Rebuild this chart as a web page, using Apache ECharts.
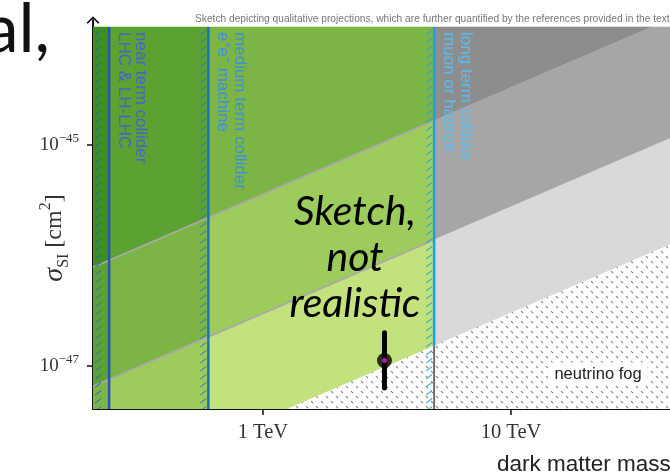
<!DOCTYPE html>
<html>
<head>
<meta charset="utf-8">
<script src="https://cdn.jsdelivr.net/npm/echarts@6/dist/echarts.min.js"></script>
<style>
  html, body { margin: 0; padding: 0; background: #fff; }
  #chart { width: 670px; height: 474px; }
</style>
</head>
<body>
<div id="chart"></div>
<script>
// Horizontal axis: log10(m / TeV).  Vertical axis: log10(sigma_SI / cm^2).
// Direct-detection reach lines, given by their values at the two mass ends.
const limitMassEnds    = [-0.70, 1.65];
const directCurrent    = [-46.12, -43.85];
const directMediumTerm = [-47.20, -44.93];
const directLongTerm   = [-48.16, -45.89];

// Collider reach in mass (near, medium, long term).
const colliderReach  = [-0.62, -0.22, 0.69];
const colliderLabels = [
  'near term collider\nLHC & LH-LHC',
  'medium term collider\ne\u207Ae\u207B machine',
  'long term collider\nmuon or hadron'
];

// Benchmark point with its vertical range.
const benchmarkMass      = [0.49];
const benchmarkSigma     = [-46.95];
const benchmarkSigmaLow  = [-47.20];
const benchmarkSigmaHigh = [-46.70];

// Axis ticks.
const massTicks          = [0, 1];
const massTickLabels     = ['1 TeV', '10 TeV'];
const sigmaTicks         = [-45, -47];
const sigmaTickExponents = ['\u221245', '\u221247'];

const bandLabels = ['direct, current', 'direct, medium term', 'direct, long term'];

// ---------------------------------------------------------------------------
const X_MIN = -0.685, X_MAX = 1.641;
const Y_MIN = -47.39, Y_MAX = -43.866, FILL_TOP = -43.93;

function limitAt(ends, x) {
  return ends[0] + (ends[1] - ends[0]) * (x - limitMassEnds[0]) / (limitMassEnds[1] - limitMassEnds[0]);
}

// band boundaries from top to bottom
const bandBounds = [
  () => FILL_TOP + 1,
  x => limitAt(directCurrent, x),
  x => limitAt(directMediumTerm, x),
  x => limitAt(directLongTerm, x),
  () => Y_MIN - 1
];
const stripBounds = [X_MIN - 0.5, colliderReach[0], colliderReach[1], colliderReach[2], X_MAX + 0.5];

// keep the part of a polygon that lies below the fill top
function clipBelow(pts, yTop) {
  const out = [];
  for (let i = 0; i < pts.length; i++) {
    const a = pts[i], b = pts[(i + 1) % pts.length];
    const ina = a[1] <= yTop, inb = b[1] <= yTop;
    if (ina) out.push(a);
    if (ina !== inb) {
      const t = (yTop - a[1]) / (b[1] - a[1]);
      out.push([a[0] + t * (b[0] - a[0]), yTop]);
    }
  }
  return out;
}

// Fog texture: white with small grey dashes
function fogPattern() {
  const c = document.createElement('canvas');
  c.width = 10; c.height = 10;
  const g = c.getContext('2d');
  g.fillStyle = '#fff'; g.fillRect(0, 0, 10, 10);
  g.strokeStyle = 'rgba(90,90,90,0.8)'; g.lineWidth = 1.1;
  g.beginPath();
  g.moveTo(1, 1); g.lineTo(3, 3.2);
  g.moveTo(6, 6); g.lineTo(8, 8.2);
  g.stroke();
  return { image: c, repeat: 'repeat' };
}
const FOG = fogPattern();

// colour of each cell: strips (left to right) x bands (top to bottom)
const greens = [null, '#c3e27d', '#9ecc5c', '#7cb545', '#5ba233', '#3c8e1f'];
const greys  = ['#8d8d8d', '#a6a6a6', '#d9d9d9', null];
function cellFill(s, b) {
  if (s === 3) return greys[b] || FOG;
  const level = (2 - s) + (3 - b);
  if (b === 3 && s === 2) return FOG;
  return greens[Math.min(level, 5)] || FOG;
}

const cells = [];
for (let s = 0; s < 4; s++) for (let b = 0; b < 4; b++) cells.push([s, b]);

const colliderLineColors = ['#2a52b0', '#1f70c4', '#1aa2de'];
const colliderHatchColors = ['rgba(40,100,200,0.75)', 'rgba(40,120,210,0.75)', 'rgba(40,165,225,0.85)'];
const colliderTextColors = ['#4a62cc', '#3b8fe4', '#5cbcf0'];
const hatchWidths = [16, 10, 10];

const serif = '"Liberation Serif", "DejaVu Serif", serif';
const sans = '"Liberation Sans", Arial, sans-serif';

const chart = echarts.init(document.getElementById('chart'), null, { renderer: 'canvas' });

const option = {
  animation: false,
  backgroundColor: '#fff',
  grid: { left: 93, top: 20, right: 0, bottom: 65 },
  xAxis: [{
    type: 'value', min: X_MIN, max: X_MAX,
    axisLine: { onZero: false, lineStyle: { color: '#111', width: 2 } },
    axisTick: { customValues: massTicks, length: 6, lineStyle: { color: '#111', width: 1.5 } },
    axisLabel: {
      customValues: massTicks, margin: 13,
      formatter: v => massTickLabels[massTicks.indexOf(v)],
      fontFamily: serif, fontSize: 20.5, color: '#333'
    },
    splitLine: { show: false }
  }, {
    type: 'value', min: X_MIN, max: X_MAX, position: 'bottom',
    axisLine: { show: false, onZero: false },
    axisTick: { customValues: massTicks, inside: true, length: 6, lineStyle: { color: '#111', width: 1.5 } },
    axisLabel: { show: false }, splitLine: { show: false }
  }],
  yAxis: [{
    type: 'value', min: Y_MIN, max: Y_MAX,
    axisLine: {
      onZero: false, lineStyle: { color: '#111', width: 2 },
      symbol: ['none', 'path://M0,10 L10,0 L20,10 L18,11.6 L10,3.4 L2,11.6 Z'],
      symbolSize: [13, 8]
    },
    axisTick: { customValues: sigmaTicks, length: 6, lineStyle: { color: '#111', width: 1.5 } },
    axisLabel: {
      customValues: sigmaTicks, margin: 14,
      formatter: v => '{b|10}{s|' + sigmaTickExponents[sigmaTicks.indexOf(v)] + '}',
      rich: {
        b: { fontFamily: serif, fontSize: 19, color: '#333', lineHeight: 26, verticalAlign: 'middle' },
        s: { fontFamily: serif, fontSize: 13, color: '#333', lineHeight: 13, verticalAlign: 'top' }
      }
    },
    splitLine: { show: false }
  }, {
    type: 'value', min: Y_MIN, max: Y_MAX, position: 'left',
    axisLine: { show: false, onZero: false },
    axisTick: { customValues: sigmaTicks, inside: true, length: 6, lineStyle: { color: '#111', width: 1.5 } },
    axisLabel: { show: false }, splitLine: { show: false }
  }],
  series: [
    // shaded reach regions
    {
      type: 'custom', clip: true, z: 1,
      data: cells,
      renderItem: (params, api) => {
        const s = api.value(0), b = api.value(1);
        const xa = stripBounds[s], xb = stripBounds[s + 1];
        const up = bandBounds[b], lo = bandBounds[b + 1];
        let poly = [[xa, up(xa)], [xb, up(xb)], [xb, lo(xb)], [xa, lo(xa)]];
        poly = clipBelow(poly, FILL_TOP);
        if (poly.length < 3) return null;
        const fill = cellFill(s, b);
        return {
          type: 'polygon',
          shape: { points: poly.map(p => api.coord(p)) },
          style: { fill: fill, stroke: typeof fill === 'string' ? fill : null, lineWidth: 0.6 }
        };
      }
    },
    // current and medium-term limit edges across the collider region
    ...[directCurrent, directMediumTerm].map(ends => ({
      type: 'line', z: 2, symbol: 'none', silent: true,
      data: [[X_MIN, limitAt(ends, X_MIN)], [colliderReach[2], limitAt(ends, colliderReach[2])]],
      lineStyle: { color: '#a9a9a9', width: 1.8 }
    })),
    // collider reach: hatching, boundary line and label
    {
      type: 'custom', clip: true, z: 3,
      data: colliderReach.map((x, i) => [x, i]),
      renderItem: (params, api) => {
        const x = api.value(0), i = api.value(1);
        const top = api.coord([x, FILL_TOP]);
        const bot = api.coord([x, Y_MIN]);
        const yLong = limitAt(directLongTerm, x);
        const split = api.coord([x, Math.max(yLong, Y_MIN)]);
        const x0 = top[0] - hatchWidths[i];
        let d = '';
        for (let y = top[1] + 2; y < bot[1]; y += 8) {
          d += 'M' + (x0 + 2) + ',' + (y + 6) + 'L' + (x0 + 8) + ',' + (y + 1.5);
        }
        const children = [
          { type: 'path', shape: { pathData: d }, style: { fill: null, stroke: colliderHatchColors[i], lineWidth: 1.1 } },
          { type: 'line', shape: { x1: top[0], y1: top[1], x2: split[0], y2: split[1] },
            style: { stroke: colliderLineColors[i], lineWidth: 2.5 } }
        ];
        if (yLong > Y_MIN) {
          children.push({ type: 'line', shape: { x1: split[0], y1: split[1], x2: bot[0], y2: bot[1] },
            style: { stroke: '#6e6e6e', lineWidth: 2 } });
        }
        children.push({
          type: 'text', x: top[0] + 40, y: top[1] + 5, rotation: -Math.PI / 2,
          style: {
            text: colliderLabels[i], fill: colliderTextColors[i],
            font: '17px ' + sans, lineHeight: 17,
            align: 'left', verticalAlign: 'top'
          }
        });
        return { type: 'group', children };
      }
    },
    // benchmark point with its range
    {
      type: 'line', z: 5, symbol: 'none', silent: true,
      data: [[benchmarkMass[0], benchmarkSigmaLow[0]], [benchmarkMass[0], benchmarkSigmaHigh[0]]],
      lineStyle: { color: '#000', width: 5, cap: 'round' }
    },
    {
      type: 'scatter', z: 6, symbol: 'circle', symbolSize: 15, silent: true,
      data: benchmarkMass.map((m, i) => [m, benchmarkSigma[i]]),
      itemStyle: { color: '#000' }
    },
    {
      type: 'scatter', z: 7, symbol: 'circle', symbolSize: 5, silent: true,
      data: benchmarkMass.map((m, i) => [m, benchmarkSigma[i]]),
      itemStyle: { color: '#e21ee2' }
    }
  ],
  graphic: [
    { type: 'text', x: 50, y: 30, style: { text: 'al,', font: '68px Lato, "Open Sans", sans-serif', fill: '#111', align: 'right', verticalAlign: 'middle' } },
    { type: 'text', x: 195, y: 19, style: {
      text: 'Sketch depicting qualitative projections, which are further quantified by the references provided in the text',
      font: '10.2px ' + sans, fill: '#777', align: 'left', verticalAlign: 'middle' } },
    { type: 'text', x: 55, y: 238, rotation: Math.PI / 2, style: {
      text: '{s|\u03C3}{sub|SI}{n| [cm}{sup|2}{n|]}', align: 'center', verticalAlign: 'middle',
      rich: {
        s: { fontFamily: serif, fontStyle: 'italic', fontSize: 28, fill: '#333', lineHeight: 34, verticalAlign: 'middle' },
        sub: { fontFamily: serif, fontSize: 16, fill: '#333', lineHeight: 16, verticalAlign: 'bottom' },
        n: { fontFamily: serif, fontSize: 24, fill: '#333', lineHeight: 34, verticalAlign: 'middle' },
        sup: { fontFamily: serif, fontSize: 16, fill: '#333', lineHeight: 16, verticalAlign: 'top' }
      } } },
    { type: 'text', x: 545, y: 58, rotation: 0.43, style: { text: bandLabels[0], font: '15px ' + sans, fill: '#2a2a2a', align: 'center', verticalAlign: 'middle' } },
    { type: 'text', x: 566, y: 171, rotation: 0.43, style: { text: bandLabels[1], font: '15px ' + sans, fill: '#2a2a2a', align: 'center', verticalAlign: 'middle' } },
    { type: 'text', x: 553, y: 283, rotation: 0.43, style: { text: bandLabels[2], font: '15px ' + sans, fill: '#2a2a2a', align: 'center', verticalAlign: 'middle' } },
    { type: 'text', x: 598, y: 374, z: 10, style: { text: 'neutrino fog', font: '16.5px ' + sans, fill: '#222', align: 'center', verticalAlign: 'middle', backgroundColor: '#fff', padding: [3, 6] } },
    { type: 'text', x: 355, y: 327, z: 10, style: {
      text: 'Sketch,\nnot\nrealistic', font: 'italic 41px Lato, "Open Sans", sans-serif', fill: '#000',
      align: 'center', verticalAlign: 'bottom', lineHeight: 46 } },
    { type: 'text', x: 497, y: 465, style: { text: 'dark matter mass', font: '22.5px ' + sans, fill: '#222', align: 'left', verticalAlign: 'middle' } }
  ]
};
chart.setOption(option);
</script>
</body>
</html>
